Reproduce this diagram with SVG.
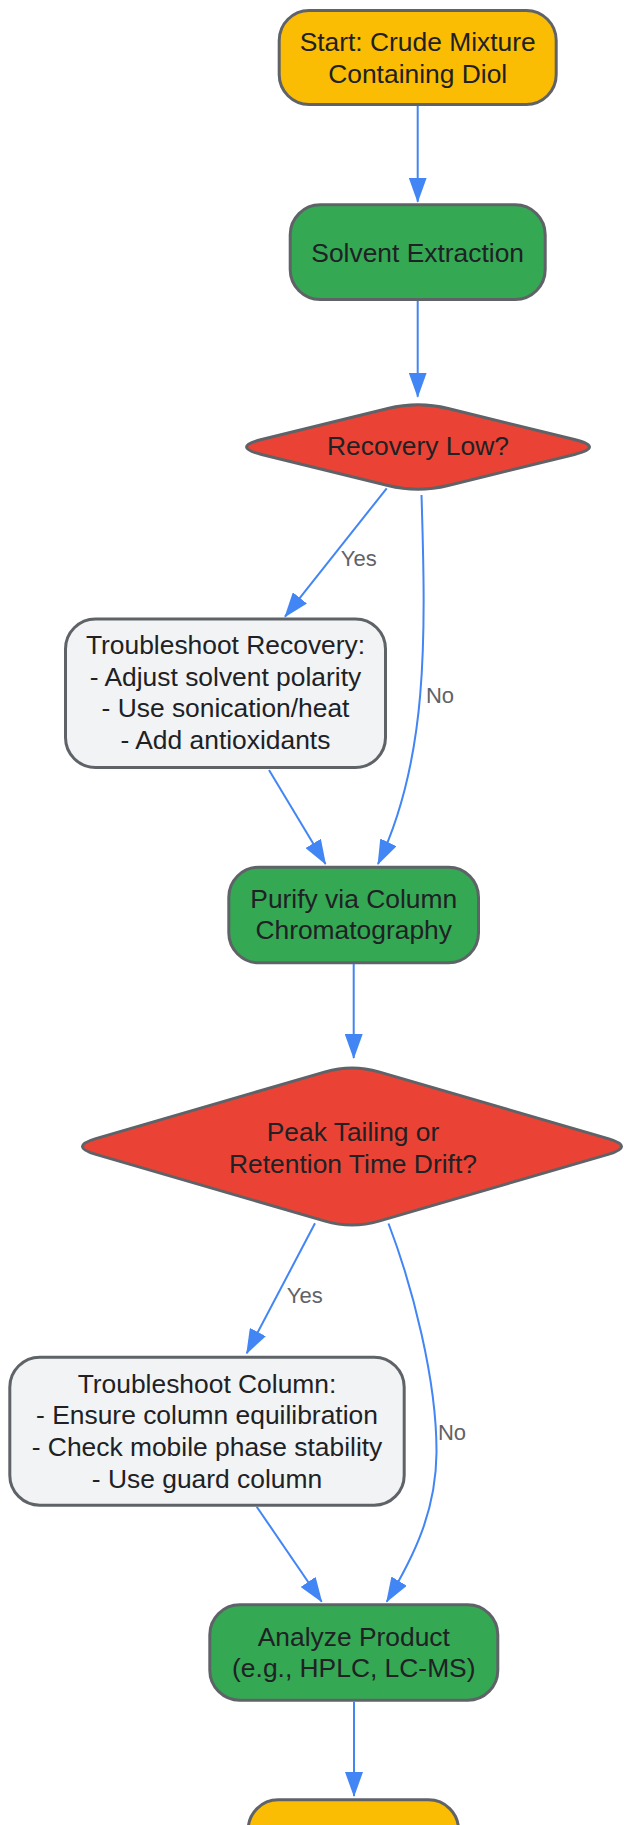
<svg xmlns="http://www.w3.org/2000/svg" width="624" height="1825" viewBox="0 0 624 1825">
<defs>
<style>
.node{stroke:#5f6368;stroke-width:3}
.start{fill:#fbbc04}
.proc{fill:#34a853}
.dec{fill:#ea4335}
.note{fill:#f1f3f4}
.t{font-family:"Liberation Sans",Arial,sans-serif;font-size:26.4px;fill:#202124;text-anchor:middle}
.el{font-family:"Liberation Sans",Arial,sans-serif;font-size:22px;fill:#5f6368;text-anchor:middle}
.edge{fill:none;stroke:#4285f4;stroke-width:2;marker-end:url(#arr)}
</style>
<marker id="arr" markerUnits="userSpaceOnUse" markerWidth="25" markerHeight="18" viewBox="0 0 25 18" refX="24" refY="9" orient="auto">
<path d="M0,0 L25,9 L0,18 Z" fill="#4285f4"/>
</marker>
</defs>
<rect width="624" height="1825" fill="#ffffff"/>
<g id="start">
<rect class="node start" x="279.2" y="10.5" width="277" height="94" rx="30"/>
<text class="t" x="417.7" y="50.7">Start: Crude Mixture</text>
<text class="t" x="417.7" y="82.7">Containing Diol</text>
</g>
<g id="extraction">
<rect class="node proc" x="290.2" y="204.8" width="255" height="94.7" rx="30"/>
<text class="t" x="417.7" y="261.7">Solvent Extraction</text>
</g>
<g id="recovery_low">
<path class="node dec" d="M448.1,408.42 L574.4,439.58 Q604.5,447 574.4,454.42 L448.1,485.58 Q418,493 387.9,485.58 L261.6,454.42 Q231.5,447 261.6,439.58 L387.9,408.42 Q418,401 448.1,408.42 Z"/>
<text class="t" x="418" y="455">Recovery Low?</text>
</g>
<g id="troubleshoot_recovery">
<rect class="node note" x="65.5" y="619" width="320" height="148.5" rx="30"/>
<text class="t" x="225.5" y="654">Troubleshoot Recovery:</text>
<text class="t" x="225.5" y="686">- Adjust solvent polarity</text>
<text class="t" x="225.5" y="717.3">- Use sonication/heat</text>
<text class="t" x="225.5" y="749.3">- Add antioxidants</text>
</g>
<g id="purify">
<rect class="node proc" x="228.8" y="867.2" width="249.7" height="95.6" rx="30"/>
<text class="t" x="353.7" y="907.7">Purify via Column</text>
<text class="t" x="353.7" y="939.3">Chromatography</text>
</g>
<g id="peak_tailing">
<path class="node dec" d="M378.88,1071.84 L608.12,1138.66 Q635,1146.5 608.12,1154.34 L378.88,1221.16 Q352,1229 325.12,1221.16 L95.88,1154.34 Q69,1146.5 95.88,1138.66 L325.12,1071.84 Q352,1064 378.88,1071.84 Z"/>
<text class="t" x="353" y="1140.7">Peak Tailing or</text>
<text class="t" x="353" y="1172.7">Retention Time Drift?</text>
</g>
<g id="troubleshoot_column">
<rect class="node note" x="9.8" y="1357.2" width="394.4" height="148" rx="30"/>
<text class="t" x="207" y="1392.7">Troubleshoot Column:</text>
<text class="t" x="207" y="1424.3">- Ensure column equilibration</text>
<text class="t" x="207" y="1456">- Check mobile phase stability</text>
<text class="t" x="207" y="1488.3">- Use guard column</text>
</g>
<g id="analyze">
<rect class="node proc" x="209.8" y="1604.8" width="288" height="95.4" rx="30"/>
<text class="t" x="353.8" y="1646">Analyze Product</text>
<text class="t" x="353.8" y="1677.3">(e.g., HPLC, LC-MS)</text>
</g>
<g id="end">
<rect class="node start" x="248.2" y="1799.8" width="210.3" height="95" rx="30"/>
</g>
<g id="connectors">
<path class="edge" d="M417.7,106 L417.7,201.7"/>
<path class="edge" d="M417.7,301 L417.7,396.7"/>
<path class="edge" d="M386.7,488.3 L285,616.7"/>
<path class="edge" d="M421.5,495 C426,640 428,760 378,864"/>
<path class="edge" d="M269,770 L325.5,864"/>
<path class="edge" d="M353.7,964 L353.7,1058"/>
<path class="edge" d="M315,1223.3 L246.7,1353.3"/>
<path class="edge" d="M388.5,1223.5 C412,1285 437,1380 436.5,1453 C436,1510 415,1555 386.7,1601.7"/>
<path class="edge" d="M256.7,1506.7 L321.7,1601.7"/>
<path class="edge" d="M354,1701.7 L354,1796"/>
<text class="el" x="358.8" y="566">Yes</text>
<text class="el" x="440" y="703">No</text>
<text class="el" x="304.7" y="1303">Yes</text>
<text class="el" x="452" y="1440">No</text>
</g>
</svg>
